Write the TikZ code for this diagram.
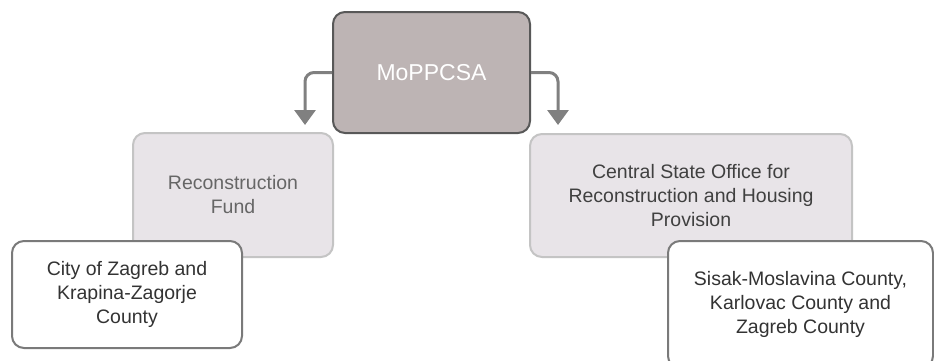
\documentclass[tikz,border=0pt]{standalone}
\usepackage{fontspec}
\setmainfont{Liberation Sans}
\usepackage{tikz}
\usetikzlibrary{arrows.meta, calc}
\usepackage{xcolor}
\definecolor{topfill}{HTML}{BDB4B4}
\definecolor{topline}{HTML}{585858}
\definecolor{midfill}{HTML}{E8E4E8}
\definecolor{midline}{HTML}{C4C4C4}
\definecolor{lowline}{HTML}{7A7A7A}
\definecolor{arrowgrey}{HTML}{808080}
\tikzset{
    topbox/.style={draw=topline, line width=2pt, fill=topfill, rounded corners=12pt,
        text=white, align=center, font=\fontsize{23}{28}\selectfont},
    midbox/.style={draw=midline, line width=2pt, fill=midfill, rounded corners=12pt,
        align=center, font=\fontsize{19.5}{24}\selectfont},
    lowbox/.style={draw=lowline, line width=2pt, fill=white, rounded corners=12pt,
        text=black!80, align=center, font=\fontsize{19.5}{24}\selectfont},
    link/.style={draw=arrowgrey, line width=3pt, rounded corners=9pt,
        -{Triangle[width=21pt,length=15pt]}}
}

\begin{document}
\begin{tikzpicture}[x=1pt,y=-1pt]
    \useasboundingbox (0,0) rectangle (934,360);
    \clip (0,0) rectangle (934,360);
    \fill[white] (0,0) rectangle (934,360);
    % second level
    \node[midbox, text=black!60, minimum width=200pt, minimum height=124pt] (fund) at (233,195) {Reconstruction\\Fund};
    \node[midbox, text=black!75, minimum width=322pt, minimum height=123pt] (office) at (691,195.5) {Central State Office for\\Reconstruction and Housing\\Provision};
    % third level
    \node[lowbox, minimum width=230pt, minimum height=107pt] (zagreb) at (127,294.5) {City of Zagreb and\\Krapina-Zagorje\\County};
    \node[lowbox, minimum width=265pt, minimum height=127pt] (sisak) at (800.5,304.5) {Sisak-Moslavina County,\\Karlovac County and\\Zagreb County};
    % top
    \node[topbox, minimum width=197pt, minimum height=121pt] (moppcsa) at (431.5,72.5) {MoPPCSA};
    \coordinate (fundin) at (305,125);
    \coordinate (officein) at (558,125);
    \draw[link] (moppcsa.west) -| (fundin);
    \draw[link] (moppcsa.east) -| (officein);
\end{tikzpicture}
\end{document}
